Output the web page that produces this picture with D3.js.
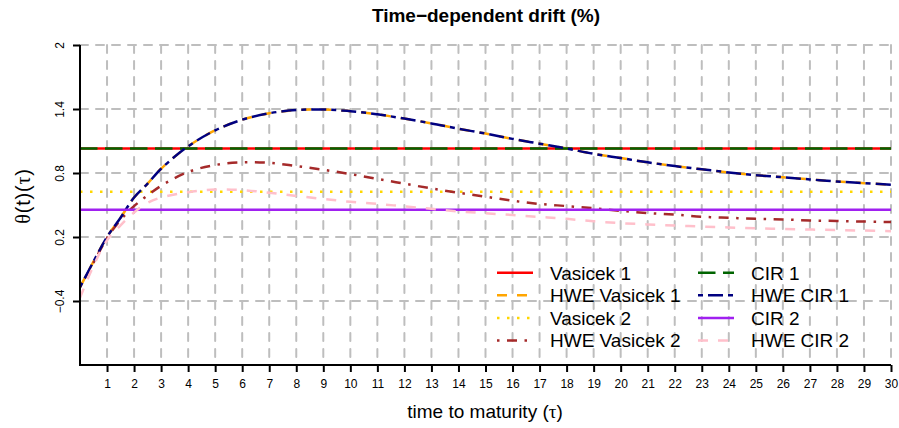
<!DOCTYPE html>
<html>
<head>
<meta charset="utf-8">
<script src="https://cdn.jsdelivr.net/npm/d3@7"></script>
<style>
  html, body { margin: 0; padding: 0; background: #ffffff; }
  svg { display: block; font-family: "Liberation Sans", Arial, Helvetica, sans-serif; }
  .sym { font-family: "Liberation Serif", "DejaVu Serif", serif; }
</style>
</head>
<body>
<svg id="chart" width="899" height="428"></svg>
<script>
// ---------------- data ----------------
const tau = [0, 0.5, 1, 1.5, 2, 2.5, 3, 4, 5, 6, 7, 8, 9, 10, 11, 12, 13, 14, 15,
             16, 17, 18, 19, 20, 21, 22, 23, 24, 25, 26, 27, 28, 29, 30];
const tauFlat = [0, 30];

const vasicek1 = [1.03, 1.03];
const cir1 = [1.03, 1.03];
const vasicek2 = [0.625, 0.625];
const cir2 = [0.455, 0.455];

const hweVasicek1 = [-0.27, -0.03, 0.2, 0.38, 0.57, 0.70, 0.84, 1.05, 1.2, 1.3, 1.36, 1.39, 1.395,
                     1.38, 1.35, 1.31, 1.265, 1.215, 1.17, 1.12, 1.075, 1.03, 0.98, 0.94, 0.90,
                     0.865, 0.835, 0.805, 0.78, 0.76, 0.74, 0.72, 0.705, 0.69];
const hweCIR1 = [-0.27, -0.03, 0.2, 0.38, 0.57, 0.70, 0.84, 1.05, 1.2, 1.3, 1.36, 1.39, 1.395,
                 1.38, 1.35, 1.31, 1.265, 1.215, 1.17, 1.12, 1.075, 1.03, 0.98, 0.94, 0.90,
                 0.865, 0.835, 0.805, 0.78, 0.76, 0.74, 0.72, 0.705, 0.69];
const hweVasicek2 = [-0.27, -0.04, 0.19, 0.36, 0.49, 0.59, 0.68, 0.81, 0.875, 0.90, 0.895, 0.865,
                     0.83, 0.79, 0.745, 0.70, 0.655, 0.615, 0.578, 0.54, 0.51, 0.49, 0.47, 0.445,
                     0.425, 0.41, 0.39, 0.38, 0.37, 0.365, 0.355, 0.35, 0.345, 0.34];
const hweCIR2 = [-0.37, -0.07, 0.17, 0.31, 0.43, 0.52, 0.57, 0.62, 0.645, 0.64, 0.615, 0.585,
                 0.557, 0.53, 0.51, 0.487, 0.465, 0.44, 0.423, 0.406, 0.388, 0.37, 0.347, 0.33,
                 0.318, 0.307, 0.298, 0.29, 0.281, 0.275, 0.27, 0.265, 0.26, 0.255];

const xTicks = [1, 2, 3, 4, 5, 6, 7, 8, 9, 10, 11, 12, 13, 14, 15, 16, 17, 18, 19, 20,
                21, 22, 23, 24, 25, 26, 27, 28, 29, 30];
const yTicks = [-0.4, 0.2, 0.8, 1.4, 2];
const yTickLabels = ["\u22120.4", "0.2", "0.8", "1.4", "2"];

const seriesNames = ["Vasicek 1", "HWE Vasicek 1", "Vasicek 2", "HWE Vasicek 2",
                     "CIR 1", "HWE CIR 1", "CIR 2", "HWE CIR 2"];

// ---------------- layout / styles ----------------
const LW = 2.5;
const series = [
  { name: seriesNames[0], x: tauFlat, y: vasicek1,    color: "#FF0000", dash: null },
  { name: seriesNames[1], x: tau,     y: hweVasicek1, color: "#FFA500", dash: [4, 4] },
  { name: seriesNames[2], x: tauFlat, y: vasicek2,    color: "#FFD700", dash: [1, 3] },
  { name: seriesNames[3], x: tau,     y: hweVasicek2, color: "#A52A2A", dash: [1, 3, 4, 3] },
  { name: seriesNames[4], x: tauFlat, y: cir1,        color: "#006400", dash: [7, 3] },
  { name: seriesNames[5], x: tau,     y: hweCIR1,     color: "#000080", dash: [2, 2, 6, 2] },
  { name: seriesNames[6], x: tauFlat, y: cir2,        color: "#A020F0", dash: null },
  { name: seriesNames[7], x: tau,     y: hweCIR2,     color: "#FFC0CB", dash: [4, 4] }
];
function dashStr(d, w) { return d ? d.map(v => v * w).join(",") : null; }

const svg = d3.select("#chart");
const x = d3.scaleLinear().domain([0, 30]).range([80, 891]);
const y = d3.scaleLinear().domain([-1, 2]).range([365, 45]);

// grid
const grid = svg.append("g");
grid.selectAll("line.v").data(xTicks).enter().append("line")
  .attr("x1", d => x(d)).attr("x2", d => x(d))
  .attr("y1", y(2)).attr("y2", y(-1))
  .attr("stroke", "#bebebe").attr("stroke-width", 2)
  .attr("stroke-dasharray", "8,8").attr("stroke-linecap", "round");
grid.selectAll("line.h").data(yTicks).enter().append("line")
  .attr("x1", x(0)).attr("x2", x(30))
  .attr("y1", d => y(d)).attr("y2", d => y(d))
  .attr("stroke", "#bebebe").attr("stroke-width", 2)
  .attr("stroke-dasharray", "8,8").attr("stroke-linecap", "round");

// lines
const line = d3.line().curve(d3.curveCatmullRom.alpha(0.5));
const plot = svg.append("g");
series.forEach(s => {
  const pts = s.x.map((t, i) => [x(t), y(s.y[i])]);
  plot.append("path")
    .attr("d", line(pts))
    .attr("fill", "none")
    .attr("stroke", s.color)
    .attr("stroke-width", LW)
    .attr("stroke-linecap", "butt")
    .attr("stroke-linejoin", "round")
    .attr("stroke-dasharray", dashStr(s.dash, LW));
});

// axes
const xAxis = svg.append("g").attr("transform", `translate(0,${y(-1)})`)
  .call(d3.axisBottom(x).tickValues(xTicks).tickFormat(d3.format("d")).tickSize(7).tickPadding(7));
const yAxis = svg.append("g").attr("transform", `translate(${x(0)},0)`)
  .call(d3.axisLeft(y).tickValues(yTicks).tickFormat((d, i) => yTickLabels[i]).tickSize(7));
[xAxis, yAxis].forEach(a => {
  a.select(".domain").remove();
  a.selectAll(".tick line").attr("stroke", "#000").attr("stroke-width", 2);
});
xAxis.selectAll(".tick text").attr("font-size", 12).attr("fill", "#000")
  .attr("font-family", "Liberation Sans, Arial, sans-serif");
yAxis.selectAll(".tick text")
  .attr("font-size", 12).attr("fill", "#000")
  .attr("font-family", "Liberation Sans, Arial, sans-serif")
  .attr("text-anchor", "middle")
  .attr("dy", 0)
  .attr("x", 0)
  .attr("transform", "translate(-16.5,0) rotate(-90)");
// L-shaped box
svg.append("path")
  .attr("d", `M${x(0)},${y(2)}V${y(-1)}H${x(30)}`)
  .attr("fill", "none").attr("stroke", "#000").attr("stroke-width", 2);

// titles
svg.append("text").attr("x", 486).attr("y", 22).attr("text-anchor", "middle")
  .attr("font-size", 19).attr("font-weight", "bold").text("Time\u2212dependent drift (%)");
const xl = svg.append("text").attr("x", 485).attr("y", 418).attr("text-anchor", "middle")
  .attr("font-size", 19);
xl.append("tspan").text("time to maturity (");
xl.append("tspan").attr("class", "sym").text("\u03C4");
xl.append("tspan").text(")");
const yl = svg.append("text").attr("transform", "translate(30,196) rotate(-90)")
  .attr("text-anchor", "middle").attr("font-size", 20).attr("letter-spacing", 0.8);
yl.append("tspan").attr("class", "sym").text("\u03B8");
yl.append("tspan").text("(t)(");
yl.append("tspan").attr("class", "sym").text("\u03C4");
yl.append("tspan").text(")");

// legend
const legend = svg.append("g");
series.forEach((s, i) => {
  const col = Math.floor(i / 4), row = i % 4;
  const lx = col === 0 ? 497 : 698;
  const ly = 272.7 + row * 22.6;
  legend.append("line")
    .attr("x1", lx).attr("x2", lx + 36).attr("y1", ly).attr("y2", ly)
    .attr("stroke", s.color).attr("stroke-width", LW)
    .attr("stroke-linecap", "butt")
    .attr("stroke-dasharray", dashStr(s.dash, LW));
  legend.append("text")
    .attr("x", lx + 53).attr("y", ly + 6.8)
    .attr("font-size", 19).text(s.name);
});
</script>
</body>
</html>
